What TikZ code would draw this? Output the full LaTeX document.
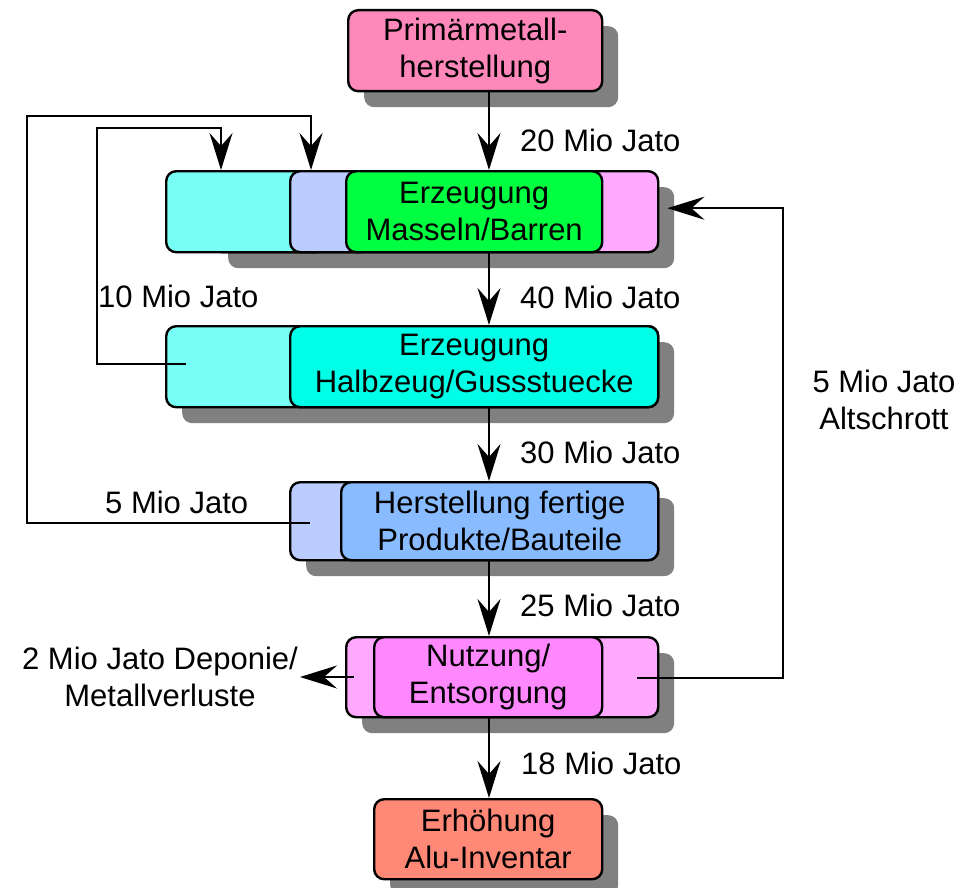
\documentclass[tikz,border=0pt]{standalone}
\usepackage{fontspec}
\setmainfont{Liberation Sans}
\usetikzlibrary{arrows.meta,shadows}

\definecolor{primpink}{RGB}{255,136,187}
\definecolor{lightcyan}{RGB}{119,255,245}
\definecolor{lavender}{RGB}{187,204,255}
\definecolor{brightgreen}{RGB}{0,255,64}
\definecolor{lightpink}{RGB}{255,170,255}
\definecolor{strongcyan}{RGB}{0,255,230}
\definecolor{skyblue}{RGB}{136,187,255}
\definecolor{magentapink}{RGB}{255,136,255}
\definecolor{salmon}{RGB}{255,136,119}
\definecolor{shadowgray}{RGB}{128,128,128}

\newcommand\flowfont{\fontsize{31}{37}\selectfont}

\begin{document}
\begin{tikzpicture}[x=1pt,y=-1pt,
  box/.style={draw, line width=2.4pt, rounded corners=10pt, inner sep=0pt,
    align=center, font=\flowfont, anchor=north west},
  shade/.style={drop shadow={shadow xshift=16pt, shadow yshift=-16pt,
    fill=shadowgray, opacity=1}},
  flow/.style={line width=2.2pt, -{Stealth[length=37pt,width=23pt,inset=13pt]}},
  lbl/.style={font=\flowfont, inner sep=0pt, align=center}]

\useasboundingbox (0,0) rectangle (963,888);

% primary production
\node[box, shade, fill=primpink, minimum width=254pt, minimum height=81pt]
  (prim) at (347,9) {Primärmetall-\\herstellung};

% row 2: ingots
\node[box, shade, fill=lightpink, minimum width=446pt, minimum height=81pt]
  (pink2) at (211,170) {};
\node[box, fill=lightcyan, minimum width=160pt, minimum height=81pt]
  (cyan2) at (165,170) {};
\node[box, fill=lavender, minimum width=80pt, minimum height=81pt]
  (lav2) at (289,170) {};
\node[box, fill=brightgreen, minimum width=256pt, minimum height=81pt]
  (green2) at (345,170) {Erzeugung\\Masseln/Barren};

% row 3: semi-finished products
\node[box, shade, fill=lightcyan, minimum width=492pt, minimum height=81pt]
  (cyanl3) at (165,325) {};
\node[box, fill=strongcyan, minimum width=368pt, minimum height=81pt]
  (cyan3) at (289,325) {Erzeugung\\Halbzeug/Gussstuecke};

% row 4: finished products
\node[box, shade, fill=lavender, minimum width=368pt, minimum height=78pt]
  (lav4) at (289,481) {};
\node[box, fill=skyblue, minimum width=317pt, minimum height=78pt]
  (blue4) at (340,481) {Herstellung fertige\\Produkte/Bauteile};

% row 5: use and disposal
\node[box, shade, fill=lightpink, minimum width=312pt, minimum height=80pt]
  (pinkl5) at (345,636) {};
\node[box, fill=magentapink, minimum width=228pt, minimum height=80pt]
  (mag5) at (373,636) {Nutzung/\\Entsorgung};

% stock increase
\node[box, shade, fill=salmon, minimum width=228pt, minimum height=80pt]
  (erh) at (373,798) {Erhöhung\\Alu-Inventar};

% main flow
\coordinate (spine) at (489,0);
\draw[flow] (prim.south -| spine) -- (pink2.north -| spine);
\draw[flow] (pink2.south -| spine) -- (cyanl3.north -| spine);
\draw[flow] (cyanl3.south -| spine) -- (lav4.north -| spine);
\draw[flow] (lav4.south -| spine) -- (pinkl5.north -| spine);
\draw[flow] (pinkl5.south -| spine) -- (erh.north -| spine);

\node[lbl, anchor=west] (f20) at (520,140) {20 Mio Jato};
\node[lbl, anchor=west] (f40) at (520,297) {40 Mio Jato};
\node[lbl, anchor=west] (f30) at (520,452) {30 Mio Jato};
\node[lbl, anchor=west] (f25) at (520,605) {25 Mio Jato};
\node[lbl, anchor=west] (f18) at (521,763) {18 Mio Jato};

% recycling of process scrap (semi-finished)
\coordinate (j10) at (186,364);
\coordinate (k10) at (97,128);
\coordinate (d10) at (221,0);
\draw[flow] (j10) -- (j10 -| k10) -- (k10) -- (k10 -| d10) -- (cyan2.north -| d10);
\node[lbl, anchor=west] (f10) at (98,296) {10 Mio Jato};

% recycling of process scrap (finished products)
\coordinate (j5) at (310,523);
\coordinate (k5) at (27,116);
\coordinate (d5) at (311,0);
\draw[flow] (j5) -- (j5 -| k5) -- (k5) -- (k5 -| d5) -- (cyan2.north -| d5);
\node[lbl, anchor=west] (f5) at (105,502) {5 Mio Jato};

% old scrap
\coordinate (r5) at (637,678);
\coordinate (rx) at (783,0);
\coordinate (rin) at ([xshift=8pt,yshift=3.5pt]pink2.east);
\draw[flow] (r5) -| (rx |- rin) -- (rin);
\node[lbl] (alt) at (884,400) {5 Mio Jato\\Altschrott};

% losses
\coordinate (lo) at (354,677);
\coordinate (loss) at (300,677);
\draw[flow] (lo) -- (loss);
\node[lbl] (dep) at (160,677) {2 Mio Jato Deponie/\\Metallverluste};

\end{tikzpicture}
\end{document}
